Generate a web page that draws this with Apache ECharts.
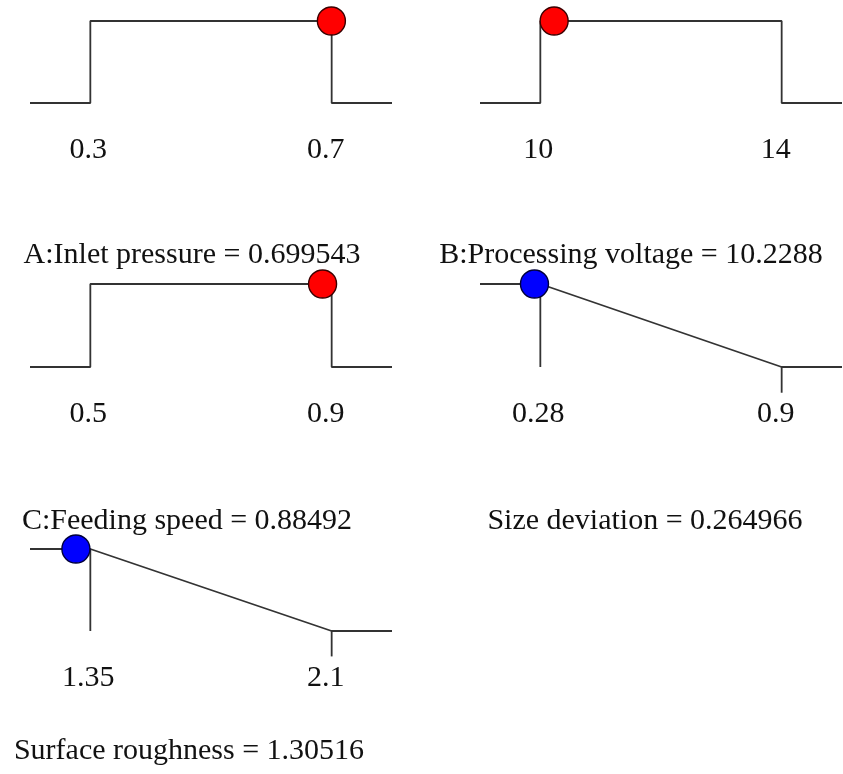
<!DOCTYPE html>
<html lang="en">
<head>
    <meta charset="UTF-8">
    <title>Desirability ramps</title>
    <script src="https://cdn.jsdelivr.net/npm/echarts@6/dist/echarts.min.js"></script>
    <style>
        html, body { margin: 0; padding: 0; background: #fff; }
        #main { width: 843px; height: 774px; }
    </style>
</head>
<body>
<div id="main"></div>
<script>
    // ramp data
    const names = ['A:Inlet pressure', 'B:Processing voltage', 'C:Feeding speed', 'Size deviation', 'Surface roughness'];
    const lowLimits = [0.3, 10, 0.5, 0.28, 1.35];
    const highLimits = [0.7, 14, 0.9, 0.9, 2.1];
    const solution = [0.699543, 10.2288, 0.88492, 0.264966, 1.30516];
    const solutionText = ['0.699543', '10.2288', '0.88492', '0.264966', '1.30516'];
    const goals = ['range', 'range', 'range', 'min', 'min'];

    const font = '"Liberation Serif", "Times New Roman", serif';
    const lineColor = '#333';
    const fs = 30;

    // panel boxes (left, top, height) and title spots
    const panels = [
        {left: 30, top: 21, h: 82, tx: 192, ty: 240},
        {left: 480, top: 21, h: 82, tx: 631, ty: 240},
        {left: 30, top: 284, h: 83, tx: 187, ty: 506},
        {left: 480, top: 284, h: 83, tx: 645, ty: 506},
        {left: 30, top: 549, h: 82, tx: 189, ty: 736}
    ];

    function desir(i, v) {
        const lo = lowLimits[i], hi = highLimits[i];
        if (goals[i] === 'range') return (v >= lo && v <= hi) ? 1 : 0;
        if (v <= lo) return 1;
        if (v >= hi) return 0;
        return (hi - v) / (hi - lo);
    }

    const grid = [], xAxis = [], yAxis = [], series = [], title = [];
    names.forEach((name, i) => {
        const lo = lowLimits[i], hi = highLimits[i];
        const pad = (hi - lo) / 4;
        const xmin = lo - pad, xmax = hi + pad;
        const p = panels[i];
        grid.push({left: p.left, top: p.top, width: 362, height: p.h});
        xAxis.push({
            type: 'value', gridIndex: i, min: xmin, max: xmax,
            axisLine: {show: false}, axisTick: {show: false}, splitLine: {show: false},
            axisLabel: {
                customValues: [lo, hi], margin: 32,
                formatter: v => (v === hi ? '{r|' + v + '}' : '{l|' + v + '}'),
                rich: {
                    l: {fontFamily: font, fontSize: fs, color: '#111', padding: [0, 4, 0, 0]},
                    r: {fontFamily: font, fontSize: fs, color: '#111', padding: [0, 12, 0, 0]}
                }
            }
        });
        yAxis.push({type: 'value', gridIndex: i, min: 0, max: 1, show: false});

        const lineBase = {
            type: 'line', xAxisIndex: i, yAxisIndex: i, symbol: 'none', clip: false,
            silent: true, animation: false,
            lineStyle: {color: lineColor, width: 1.8}
        };
        if (goals[i] === 'range') {
            series.push(Object.assign({}, lineBase, {
                data: [[xmin, 0], [lo, 0], [lo, 1], [hi, 1], [hi, 0], [xmax, 0]]
            }));
        } else {
            series.push(Object.assign({}, lineBase, {
                data: [[xmin, 1], [lo, 1], [hi, 0], [xmax, 0]]
            }));
            series.push(Object.assign({}, lineBase, {data: [[lo, 1], [lo, 0]]}));
            series.push(Object.assign({}, lineBase, {data: [[hi, 0], [hi, -0.31]]}));
        }
        const isFactor = goals[i] === 'range';
        series.push({
            type: 'scatter', xAxisIndex: i, yAxisIndex: i, clip: false, animation: false,
            symbolSize: 28, z: 5,
            itemStyle: {
                color: isFactor ? '#ff0000' : '#0000ff',
                borderColor: isFactor ? '#3a0000' : '#00003a', borderWidth: 1.4, opacity: 1
            },
            data: [[solution[i], desir(i, solution[i])]]
        });
        title.push({
            text: name + ' = ' + solutionText[i],
            left: p.tx, top: p.ty, textAlign: 'center', padding: 0,
            textStyle: {fontFamily: font, fontSize: fs, fontWeight: 'normal', color: '#111'}
        });
    });

    const chart = echarts.init(document.getElementById('main'));
    chart.setOption({
        backgroundColor: '#fff',
        animation: false,
        title: title,
        grid: grid,
        xAxis: xAxis,
        yAxis: yAxis,
        series: series
    });
</script>
</body>
</html>
